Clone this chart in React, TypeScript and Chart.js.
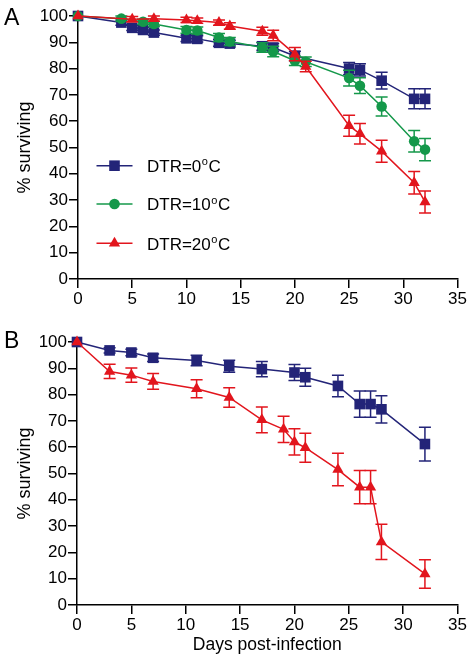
import React, { useEffect, useRef } from 'react';
import { Chart, registerables } from 'chart.js';

Chart.register(...registerables);

// ---------- Data ----------
const blueDaysA = [0, 4, 5, 6, 7, 10, 11, 13, 14, 17, 18, 20, 25, 26, 28, 31, 32];
const blueA = [100, 97.5, 95.5, 94.7, 93.7, 91.5, 91.3, 89.8, 89.5, 88.5, 88, 84.8, 80, 79.5, 75.4, 68.5, 68.5];
const blueErrA = [0, 1, 1, 1, 1, 1.2, 1.2, 1.3, 1.3, 1.5, 1.5, 1.8, 2.3, 2.3, 3.2, 3.8, 3.8];

const greenDaysA = [0, 4, 6, 7, 10, 11, 13, 14, 17, 18, 20, 21, 25, 26, 28, 31, 32];
const greenA = [100, 99, 97.8, 97, 94.7, 94.5, 91.8, 90.3, 88, 86.5, 83, 82.6, 76.4, 73.5, 65.6, 52.4, 49.2];
const greenErrA = [0, 1, 1, 1, 1.3, 1.3, 1.5, 1.5, 1.8, 2, 1.8, 1.8, 3, 3, 3.6, 4.1, 4.2];

const redDaysA = [0, 5, 7, 10, 11, 13, 14, 17, 18, 20, 21, 25, 26, 28, 31, 32];
const redA = [100, 98.8, 99, 98.5, 98.2, 97.5, 96.2, 94.2, 92.6, 85.5, 80.8, 58.3, 55.2, 48.6, 36.6, 29.3];
const redErrA = [0, 1, 1, 1, 1, 1, 1.2, 1.5, 2, 2.5, 2, 4, 3.9, 4.2, 4.3, 4.2];

const blueDaysB = [0, 3, 5, 7, 11, 14, 17, 20, 21, 24, 26, 27, 28, 32];
const blueB = [100, 96.8, 96, 94, 93, 90.8, 89.7, 88.4, 86.6, 83.3, 76.4, 76.4, 74.4, 61.2];
const blueErrB = [0, 1, 1.2, 1.4, 2, 2.3, 2.9, 3, 3.4, 4.1, 5, 5, 5.2, 6.4];

const redDaysB = [0, 3, 5, 7, 11, 14, 17, 19, 20, 21, 24, 26, 27, 28, 32];
const redB = [100, 88.8, 87.4, 85, 82.2, 78.9, 70.4, 66.8, 62, 59.8, 51.5, 44.8, 44.8, 24, 11.8];
const redErrB = [0, 2.7, 2.7, 3, 3.4, 3.7, 4.9, 5, 5, 5.5, 6.2, 6.3, 6.3, 6.7, 5.4];

const legendLabels = ['DTR=0', 'DTR=10', 'DTR=20'];
const xTitle = 'Days post-infection';
const yTitle = '% surviving';

// ---------- Styles ----------
const NAVY = '#232478';
const GREEN = '#14984a';
const RED = '#e2151d';
const FONT = '"Liberation Sans", Arial, Helvetica, sans-serif';
const W = 468;

const pts = (days: number[], vals: number[]) => days.map((d, i) => ({ x: d, y: vals[i] }));

const errorBarPlugin = {
  id: 'errorBars',
  beforeDatasetDraw(chart: any, args: any) {
    const ds = chart.data.datasets[args.index];
    const errs: number[] | undefined = ds.errors;
    if (!errs) return;
    const y = chart.scales.y;
    const ctx = chart.ctx;
    ctx.save();
    ctx.strokeStyle = ds.borderColor;
    ctx.lineWidth = 1.5;
    args.meta.data.forEach((pt: any, i: number) => {
      const e = errs[i];
      if (!e) return;
      const v = ds.data[i].y;
      const t = y.getPixelForValue(v + e);
      const b = y.getPixelForValue(v - e);
      const x = pt.x;
      ctx.beginPath();
      ctx.moveTo(x, t); ctx.lineTo(x, b);
      ctx.moveTo(x - 6, t); ctx.lineTo(x + 6, t);
      ctx.moveTo(x - 6, b); ctx.lineTo(x + 6, b);
      ctx.stroke();
    });
    ctx.restore();
  },
};

function drawMarker(ctx: CanvasRenderingContext2D, style: string, x: number, y: number, r: number) {
  ctx.beginPath();
  if (style === 'rect') {
    const s = Math.SQRT1_2 * r;
    ctx.rect(x - s, y - s, 2 * s, 2 * s);
  } else if (style === 'circle') {
    ctx.arc(x, y, r, 0, Math.PI * 2);
  } else {
    ctx.moveTo(x, y - r);
    ctx.lineTo(x + r * Math.sin((2 * Math.PI) / 3), y - r * Math.cos((2 * Math.PI) / 3));
    ctx.lineTo(x + r * Math.sin((4 * Math.PI) / 3), y - r * Math.cos((4 * Math.PI) / 3));
    ctx.closePath();
  }
  ctx.fill();
}

function makeLetterPlugin(letter: string, x: number, baseline: number) {
  return {
    id: 'letter' + letter,
    afterDraw(chart: any) {
      const ctx = chart.ctx;
      ctx.save();
      ctx.fillStyle = '#000';
      ctx.font = `23px ${FONT}`;
      ctx.textAlign = 'left';
      ctx.textBaseline = 'alphabetic';
      ctx.fillText(letter, x, baseline);
      ctx.restore();
    },
  };
}

const legendPlugin = {
  id: 'customLegend',
  afterDraw(chart: any) {
    const ctx = chart.ctx;
    const items = [
      { color: NAVY, style: 'rect', r: 7.5, y: 165.7 },
      { color: GREEN, style: 'circle', r: 5.3, y: 204 },
      { color: RED, style: 'triangle', r: 6.5, y: 243.3 },
    ];
    ctx.save();
    items.forEach((it, i) => {
      ctx.strokeStyle = it.color;
      ctx.fillStyle = it.color;
      ctx.lineWidth = 1.5;
      ctx.beginPath();
      ctx.moveTo(96.5, it.y);
      ctx.lineTo(132.5, it.y);
      ctx.stroke();
      drawMarker(ctx, it.style, 114.5, it.y, it.r);
      ctx.fillStyle = '#000';
      ctx.textBaseline = 'alphabetic';
      ctx.textAlign = 'left';
      const base = it.y + 6.2;
      let x = 147;
      ctx.font = `17px ${FONT}`;
      ctx.fillText(legendLabels[i], x, base);
      x += ctx.measureText(legendLabels[i]).width + 0.5;
      ctx.font = `11px ${FONT}`;
      ctx.fillText('o', x, base - 6.5);
      x += ctx.measureText('o').width + 0.5;
      ctx.font = `17px ${FONT}`;
      ctx.fillText('C', x, base);
    });
    ctx.restore();
  },
};

function mkDataset(color: string, style: string, r: number, data: any[], errors: number[], order: number) {
  return {
    data,
    errors,
    order,
    borderColor: color,
    backgroundColor: color,
    pointBackgroundColor: color,
    pointBorderColor: color,
    pointBorderWidth: 0,
    pointStyle: style,
    pointRadius: r,
    borderWidth: 1.5,
    showLine: true,
    tension: 0,
    clip: false,
  } as any;
}

function makeOptions(opts: { padTop: number; xHeight: number; yWidth: number; showXTitle: boolean }) {
  return {
    animation: false,
    responsive: false,
    devicePixelRatio: 1,
    events: [],
    layout: { padding: { top: opts.padTop, left: 0, right: 0, bottom: 0 } },
    plugins: { legend: { display: false }, tooltip: { enabled: false } },
    scales: {
      x: {
        type: 'linear',
        min: 0,
        max: 35,
        ticks: { stepSize: 5, color: '#000', font: { family: FONT, size: 17 }, padding: 1, maxRotation: 0, autoSkip: false },
        grid: { display: true, drawOnChartArea: false, drawTicks: true, tickLength: 9, color: '#000', lineWidth: 1.5 },
        border: { display: true, color: '#000', width: 1.5 },
        title: {
          display: opts.showXTitle,
          text: xTitle,
          color: '#000',
          font: { family: FONT, size: 17.5 },
          padding: { top: 0, bottom: 1.2 },
        },
        afterFit: (s: any) => { s.height = opts.xHeight; },
      },
      y: {
        type: 'linear',
        min: 0,
        max: 100,
        ticks: { stepSize: 10, color: '#000', font: { family: FONT, size: 17 }, padding: 1 },
        grid: { display: true, drawOnChartArea: false, drawTicks: true, tickLength: 9, color: '#000', lineWidth: 1.5 },
        border: { display: true, color: '#000', width: 1.5 },
        title: {
          display: true,
          text: yTitle,
          color: '#000',
          font: { family: FONT, size: 18 },
          padding: { top: 14, bottom: 0 },
        },
        afterFit: (s: any) => { s.width = opts.yWidth; },
      },
    },
  } as any;
}

export default function App() {
  const refA = useRef<HTMLCanvasElement>(null);
  const refB = useRef<HTMLCanvasElement>(null);

  useEffect(() => {
    const chartA = new Chart(refA.current as HTMLCanvasElement, {
      type: 'scatter',
      data: {
        datasets: [
          mkDataset(NAVY, 'rect', 7.5, pts(blueDaysA, blueA), blueErrA, 2),
          mkDataset(GREEN, 'circle', 5.3, pts(greenDaysA, greenA), greenErrA, 1),
          mkDataset(RED, 'triangle', 6.5, pts(redDaysA, redA), redErrA, 0),
        ],
      },
      options: makeOptions({ padTop: 16, xHeight: 41, yWidth: 78, showXTitle: false }),
      plugins: [errorBarPlugin, legendPlugin, makeLetterPlugin('A', 4, 25)],
    } as any);

    const chartB = new Chart(refB.current as HTMLCanvasElement, {
      type: 'scatter',
      data: {
        datasets: [
          mkDataset(NAVY, 'rect', 7.5, pts(blueDaysB, blueB), blueErrB, 1),
          mkDataset(RED, 'triangle', 6.5, pts(redDaysB, redB), redErrB, 0),
        ],
      },
      options: makeOptions({ padTop: 22, xHeight: 52, yWidth: 77, showXTitle: true }),
      plugins: [errorBarPlugin, makeLetterPlugin('B', 4, 28)],
    } as any);

    return () => {
      chartA.destroy();
      chartB.destroy();
    };
  }, []);

  return (
    <div style={{ position: 'absolute', left: 0, top: 0, width: W, height: 657, background: '#fff' }}>
      <canvas ref={refA} width={W} height={320} style={{ display: 'block', width: W, height: 320 }} />
      <canvas ref={refB} width={W} height={337} style={{ display: 'block', width: W, height: 337 }} />
    </div>
  );
}
